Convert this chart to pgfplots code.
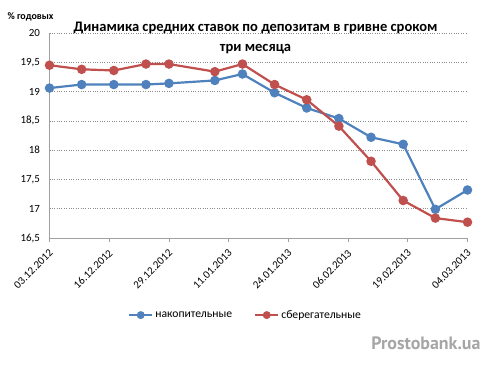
\documentclass[border=0pt]{standalone}
\usepackage{fontspec}
\setmainfont{Carlito}
\newfontfamily\wmfont{PT Sans}
\usepackage{pgfplots}
\pgfplotsset{compat=1.18}
\definecolor{cblue}{HTML}{4F81BD}
\definecolor{cred}{HTML}{C0504D}
\definecolor{axgray}{HTML}{A0A0A0}
\begin{document}
\begin{tikzpicture}[x=1bp,y=1bp]
\path[use as bounding box] (0,0) rectangle (493,365);
\begin{axis}[
  scale only axis,
  width=418bp, height=205bp,
  at={(49.5bp,127bp)}, anchor=south west,
  xmin=0, xmax=91, ymin=16.5, ymax=20,
  axis x line*=bottom, axis y line*=left,
  axis line style={axgray, line width=0.8pt},
  xtick={0,13,26,39,52,65,78,91},
  xticklabels={03.12.2012,16.12.2012,29.12.2012,11.01.2013,24.01.2013,06.02.2013,19.02.2013,04.03.2013},
  ytick={16.5,17,17.5,18,18.5,19,19.5,20},
  yticklabel style={/pgf/number format/use comma,/pgf/number format/fixed, font=\fontsize{11}{13}\selectfont, xshift=-2bp},
  xticklabel style={xshift=4bp, yshift=-7bp, rotate=45, anchor=east, font=\fontsize{11}{13}\selectfont},
  /pgf/number format/assume math mode=true,
  ymajorgrids, grid style={black!45, dotted, line width=0.6pt},
  tick align=outside,
  xtick style={axgray, line width=0.8pt},
  ytick style={draw=none},
  major tick length=4bp,
  legend style={at={(0.469,-0.376)}, anchor=center, draw=none, legend columns=2, font=\fontsize{11.7}{13}\selectfont, /tikz/every even column/.append style={column sep=20bp}},
  legend image code/.code={\draw[#1, mark size=2.8bp] (0bp,0bp) -- (23bp,0bp); \path[#1, mark size=2.8bp] plot coordinates {(11.5bp,0bp)};},
  clip=false,
]
\addplot[cblue, line width=2.2bp, mark=*, mark size=3.6bp, mark options={solid}] coordinates {
(0,19.06) (7,19.12) (14,19.12) (21,19.12) (26,19.14) (36,19.19) (42,19.30) (49,18.98) (56,18.72) (63,18.54) (70,18.22) (77,18.10) (84,16.99) (91,17.32)};
\addlegendentry{накопительные}
\addplot[cred, line width=2.2bp, mark=*, mark size=3.6bp, mark options={solid}] coordinates {
(0,19.45) (7,19.38) (14,19.36) (21,19.47) (26,19.47) (36,19.34) (42,19.47) (49,19.12) (56,18.86) (63,18.41) (70,17.81) (77,17.14) (84,16.84) (91,16.77)};
\addlegendentry{сберегательные}
\end{axis}
\node[align=center, font=\bfseries\fontsize{14.6}{20}\selectfont] at (255.5,327) {Динамика средних ставок по депозитам в гривне сроком\\три месяца};
\node[font=\bfseries\fontsize{10}{12}\selectfont, anchor=west] at (4,348) {\% годовых};
\node[font=\wmfont\bfseries\fontsize{18}{20}\selectfont, text=black!35, anchor=east] at (484,22) {Prostobank.ua};
\end{tikzpicture}
\end{document}
